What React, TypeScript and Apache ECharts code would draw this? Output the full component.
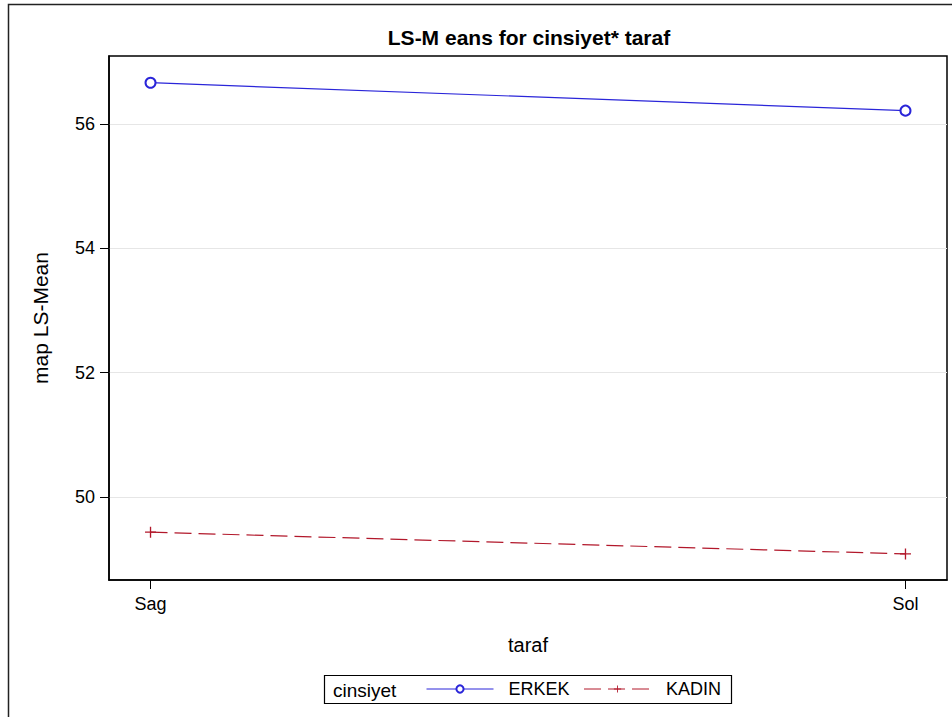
import React, { useEffect, useRef } from "react";
import * as echarts from "echarts";

const titleText = "LS-M eans for cinsiyet* taraf";
const categories = ["Sag", "Sol"];
const groupName = "cinsiyet";
const seriesNames = ["ERKEK", "KADIN"];
const erkek = [56.67, 56.22];
const kadin = [49.43, 49.08];
const yTicks = [50, 52, 54, 56];
const xTitle = "taraf";
const yTitle = "map LS-Mean";

const FONT = "'Liberation Sans', Arial, sans-serif";
const BLUE = "#2A25D9";
const RED = "#B2182B";

export default function App() {
  const ref = useRef<HTMLDivElement>(null);
  useEffect(() => {
    if (!ref.current) return;
    const chart = echarts.init(ref.current, null, { renderer: "svg" });
    const xIdx = categories.map((_, i) => i);
    chart.setOption({
      animation: false,
      backgroundColor: "#fff",
      title: {
        text: titleText,
        left: 524,
        top: 22,
        textAlign: "center",
        textStyle: { fontFamily: FONT, fontSize: 21, fontWeight: "bold", color: "#000" },
      },
      grid: {
        left: 109,
        top: 56,
        right: 5,
        bottom: 137,
        show: true,
        borderColor: "#000",
        borderWidth: 1.5,
        containLabel: false,
      },
      xAxis: {
        type: "value",
        min: -0.055,
        max: 1.055,
        name: xTitle,
        nameLocation: "middle",
        nameGap: 55,
        nameTextStyle: { fontFamily: FONT, fontSize: 20, color: "#000" },
        axisLine: { show: true, onZero: false, lineStyle: { color: "#000", width: 1.5 } },
        axisTick: { show: true, length: 9, customValues: xIdx, lineStyle: { color: "#000", width: 1 } },
        axisLabel: {
          customValues: xIdx,
          margin: 15,
          fontFamily: FONT,
          fontSize: 18,
          color: "#000",
          formatter: (v: number) => categories[Math.round(v)] ?? "",
        },
        splitLine: { show: false },
      },
      yAxis: {
        type: "value",
        min: 48.66,
        max: 57.1,
        name: yTitle,
        nameLocation: "middle",
        nameGap: 58,
        nameTextStyle: { fontFamily: FONT, fontSize: 21, color: "#000" },
        axisLine: { show: true, onZero: false, lineStyle: { color: "#000", width: 1.5 } },
        axisTick: { show: true, length: 9, customValues: yTicks, lineStyle: { color: "#000", width: 1 } },
        axisLabel: {
          customValues: yTicks,
          margin: 14,
          fontFamily: FONT,
          fontSize: 18,
          color: "#000",
        },
        splitLine: { show: true, lineStyle: { color: "#e6e6e6", width: 1 } },
      },
      legend: {
        left: 426,
        top: 680,
        itemWidth: 67,
        itemHeight: 9,
        itemGap: 14,
        padding: 0,
        lineStyle: { width: 1 },
        itemStyle: { borderWidth: 1 },
        textStyle: { fontFamily: FONT, fontSize: 18, color: "#000", padding: [0, 0, 0, 10] },
        data: seriesNames,
      },
      graphic: [
        {
          type: "rect",
          shape: { x: 8.5, y: 4.5, width: 960, height: 730 },
          style: { fill: "none", stroke: "#222", lineWidth: 1.5 },
          silent: true,
        },
        {
          type: "rect",
          shape: { x: 324.5, y: 675.5, width: 407, height: 28 },
          style: { fill: "none", stroke: "#000", lineWidth: 1.2 },
          silent: true,
        },
        {
          type: "text",
          x: 333,
          y: 690,
          style: {
            text: groupName,
            fontFamily: FONT,
            fontSize: 19,
            fill: "#000",
            verticalAlign: "middle",
          },
          silent: true,
        },
      ],
      series: [
        {
          name: seriesNames[0],
          type: "line",
          data: categories.map((_, i) => [i, erkek[i]]),
          symbol: "emptyCircle",
          symbolSize: 10,
          color: BLUE,
          itemStyle: { color: BLUE, borderWidth: 1.3 },
          lineStyle: { color: BLUE, width: 1.2 },
        },
        {
          name: seriesNames[1],
          type: "line",
          data: categories.map((_, i) => [i, kadin[i]]),
          symbol: "path://M0,4.4H10V5.6H0Z M4.4,0H5.6V10H4.4Z",
          symbolSize: 11,
          color: RED,
          itemStyle: { color: RED },
          lineStyle: { color: RED, width: 1.2, type: [17, 7] },
        },
      ],
    });
    return () => chart.dispose();
  }, []);
  return (
    <div
      ref={ref}
      style={{ position: "fixed", left: 0, top: 0, width: 952, height: 717 }}
    />
  );
}
